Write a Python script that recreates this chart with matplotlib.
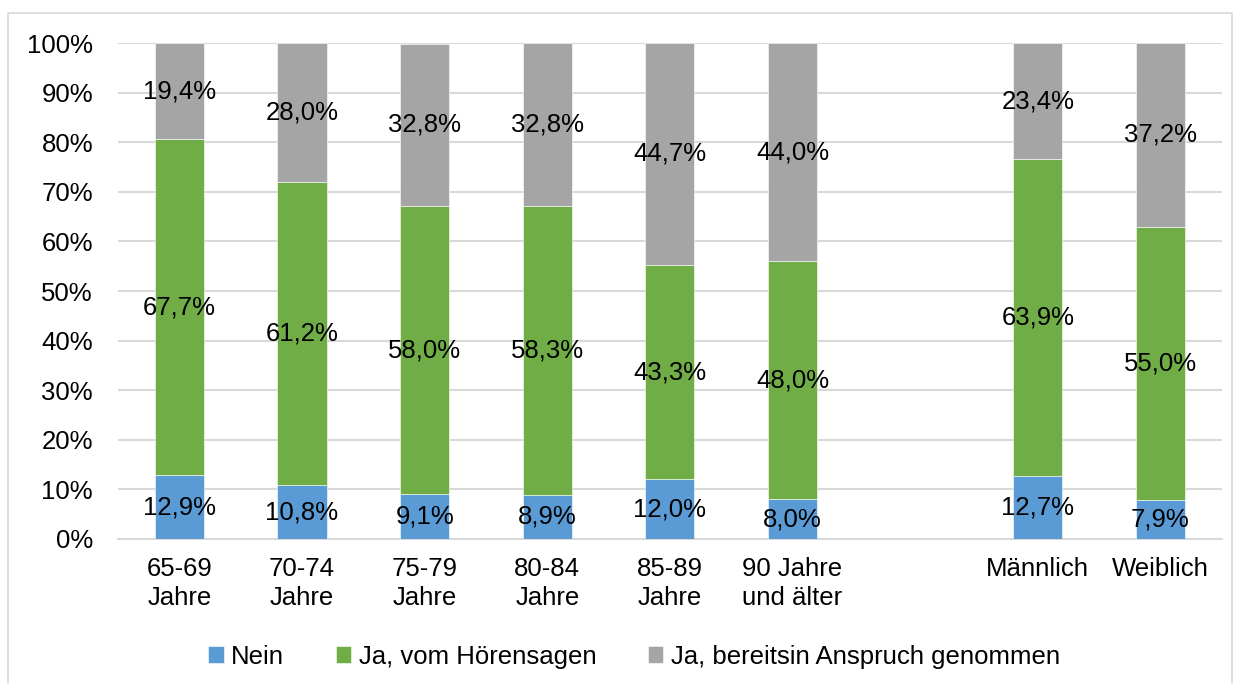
import numpy as np
import matplotlib.pyplot as plt
from matplotlib.patches import Rectangle

plt.rcParams['font.family'] = ['Liberation Sans', 'DejaVu Sans']

categories = ['65-69\nJahre', '70-74\nJahre', '75-79\nJahre', '80-84\nJahre',
              '85-89\nJahre', '90 Jahre\nund älter', 'Männlich', 'Weiblich']
positions = [0, 1, 2, 3, 4, 5, 7, 8]
nein = [12.9, 10.8, 9.1, 8.9, 12.0, 8.0, 12.7, 7.9]
hoerensagen = [67.7, 61.2, 58.0, 58.3, 43.3, 48.0, 63.9, 55.0]
anspruch = [19.4, 28.0, 32.8, 32.8, 44.7, 44.0, 23.4, 37.2]
series_names = ['Nein', 'Ja, vom Hörensagen', 'Ja, bereitsin Anspruch genommen']
colors = ['#5B9BD5', '#70AD47', '#A5A5A5']

fig = plt.figure(figsize=(12.36, 6.84), dpi=100)
ax = fig.add_axes([0.0955, 0.212, 0.893, 0.725])

# light frame around the chart
fig.patches.append(Rectangle((0.0065, -0.01), 0.99, 0.991, transform=fig.transFigure,
                             fill=False, edgecolor='#D9D9D9', linewidth=1.2))

bottom = np.zeros(len(nein))
for vals, name, col in zip([nein, hoerensagen, anspruch], series_names, colors):
    vals = np.array(vals)
    ax.bar(positions, vals, 0.4, bottom=bottom, color=col, label=name,
           edgecolor='white', linewidth=0.4, zorder=3)
    for x, b, v in zip(positions, bottom, vals):
        ax.text(x, b + v / 2, f'{v:.1f}%'.replace('.', ','), ha='center', va='center',
                fontsize=18.5, color='black', zorder=4)
    bottom += vals

ax.set_xlim(-0.5, 8.5)
ax.set_ylim(0, 100)
ax.set_yticks(np.arange(0, 101, 10))
ax.set_yticklabels([f'{t}%' for t in range(0, 101, 10)], fontsize=18.5)
ax.set_xticks(positions)
ax.set_xticklabels(categories, fontsize=18.5, linespacing=1.25)
ax.tick_params(axis='x', length=0, pad=13)
ax.tick_params(axis='y', length=0, pad=18)
ax.grid(axis='y', color='#D9D9D9', linewidth=1.5, zorder=0)
for s in ['top', 'right', 'left']:
    ax.spines[s].set_visible(False)
ax.spines['bottom'].set_color('#D9D9D9')
ax.spines['bottom'].set_linewidth(1.5)

fig.legend(loc='center', bbox_to_anchor=(0.513, 0.040), ncol=3, frameon=False,
           fontsize=18.5, handlelength=0.6, handleheight=0.6, handletextpad=0.3,
           columnspacing=2.0)

fig.savefig('out.png', dpi=100)
